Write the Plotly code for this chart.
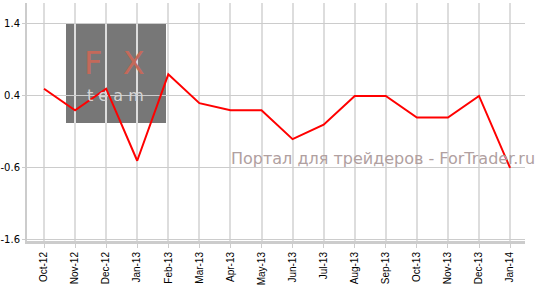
import plotly.graph_objects as go

months = ["Oct-12", "Nov-12", "Dec-12", "Jan-13", "Feb-13", "Mar-13", "Apr-13", "May-13",
          "Jun-13", "Jul-13", "Aug-13", "Sep-13", "Oct-13", "Nov-13", "Dec-13", "Jan-14"]
values = [0.5, 0.2, 0.5, -0.5, 0.7, 0.3, 0.2, 0.2, -0.2, 0.0, 0.4, 0.4, 0.1, 0.1, 0.4, -0.6]
y_ticks = [1.4, 0.4, -0.6, -1.6]
y_tick_text = ["1.4", "0.4", "-0.6", "-1.6"]

W, H = 545, 298
L, R, T, B = 27, 20, 3, 57

fig = go.Figure()
fig.add_trace(go.Scatter(x=months, y=values, mode="lines",
                         line=dict(color="#ff0000", width=2), hoverinfo="skip"))


def px(xp):
    return (xp - L) / 498


def py(yp):
    return (241 - yp) / 238


# logo box (decoration)
fig.add_shape(type="rect", xref="paper", yref="paper",
              x0=px(66), x1=px(166), y0=py(123), y1=py(23),
              fillcolor="#777777", line=dict(width=0), layer="below")

fig.add_annotation(text="F&nbsp;&nbsp;X", xref="paper", yref="paper", x=px(114), y=py(84),
                   showarrow=False, font=dict(family="DejaVu Sans", size=32, color="#c4695a"),
                   xanchor="center", yanchor="bottom")
fig.add_annotation(text="t&nbsp;e&nbsp;a&nbsp;m", xref="paper", yref="paper", x=px(115), y=py(84),
                   showarrow=False, font=dict(family="DejaVu Sans", size=16, color="#d4d4d4"),
                   xanchor="center", yanchor="top")

fig.add_annotation(text="Портал для трейдеров - ForTrader.ru", xref="paper", yref="paper",
                   x=px(383), y=py(158), showarrow=False,
                   font=dict(family="DejaVu Sans", size=16, color="#b0a0a0"),
                   xanchor="center", yanchor="middle")

fig.update_layout(
    width=W, height=H,
    margin=dict(l=L, r=R, t=T, b=B, autoexpand=False),
    paper_bgcolor="white", plot_bgcolor="white",
    showlegend=False,
    xaxis=dict(type="category", range=[-0.547, 15.48], automargin=False,
               showgrid=True, gridcolor="#dddddd", gridwidth=2,
               showline=True, linecolor="#cccccc", linewidth=3,
               ticks="outside", ticklen=4, tickcolor="#cccccc",
               tickangle=-90,
               tickfont=dict(family="Liberation Sans, Arial", size=10, color="#000000"),
               fixedrange=True),
    yaxis=dict(range=[-1.614, 1.69], tickvals=y_ticks, ticktext=y_tick_text,
               automargin=False,
               showgrid=True, gridcolor="#cccccc", gridwidth=1,
               zeroline=False,
               showline=True, linecolor="#cccccc", linewidth=2,
               ticks="outside", ticklen=3, tickcolor="#cccccc",
               tickfont=dict(family="DejaVu Sans", size=10, color="#000000"),
               fixedrange=True),
)

fig.write_html("out.html")
